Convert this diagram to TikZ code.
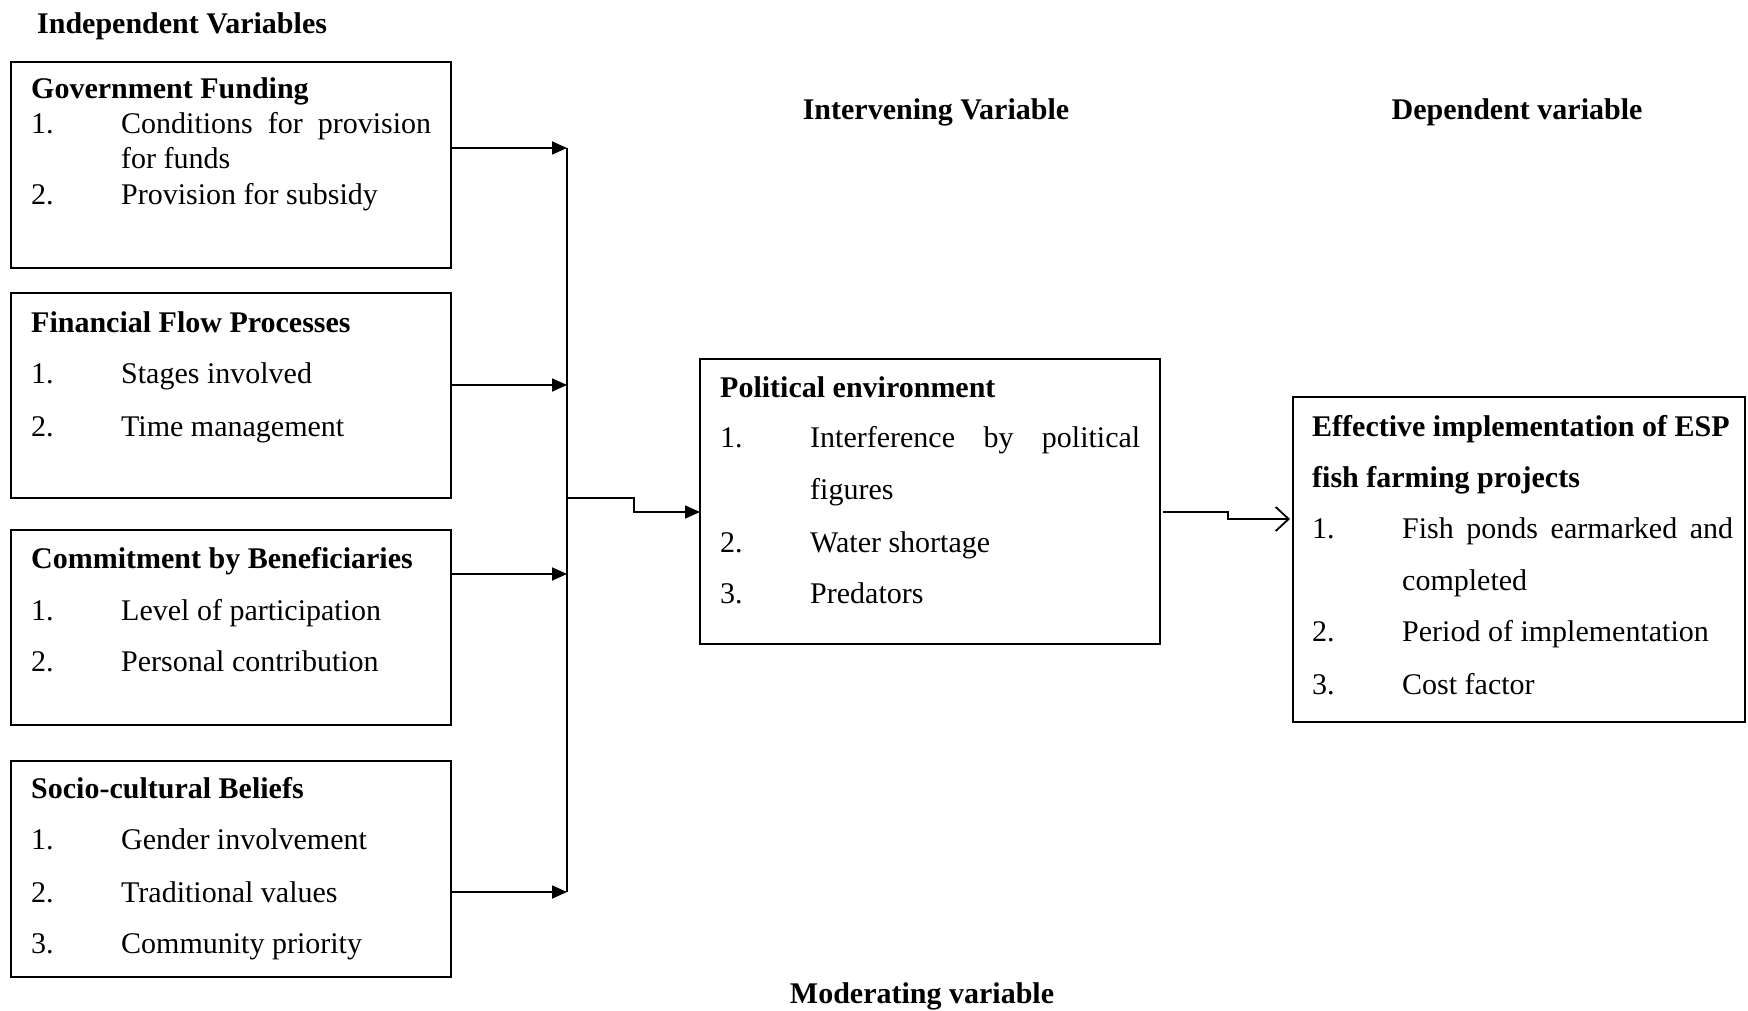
\documentclass[tikz,border=0pt]{standalone}
\usepackage{fontspec}
\setmainfont{Liberation Serif}
\usetikzlibrary{arrows.meta}
\begin{document}
\begin{tikzpicture}[x=1pt,y=-1pt,
  box/.style={draw,line width=1.8pt,rectangle,inner sep=0pt,outer sep=0pt,anchor=north west},
  txt/.style={anchor=base west,inner sep=0pt,font=\fontsize{30}{36}\selectfont},
  hd/.style={anchor=base west,inner sep=0pt,font=\fontsize{30}{36}\selectfont\bfseries},
  hdc/.style={hd,anchor=base},
  wire/.style={line width=1.8pt},
  conn/.style={line width=1.8pt,-{Triangle[length=15pt,width=13pt]}},
  openconn/.style={line width=1.8pt,-{Straight Barb[length=13pt,width=24pt,line width=1.8pt]}}
]
\useasboundingbox (0,0) rectangle (1748,1011);

% headings
\node[hd] (h1) at (37,34) {Independent Variables};
\node[hdc] (h2) at (936,120) {Intervening Variable};
\node[hdc] (h3) at (1517,120) {Dependent variable};
\node[hdc] (h4) at (922,1003) {Moderating variable};

% boxes
\node[box,minimum width=440pt,minimum height=206pt] (gf) at (11,62) {};
\node[box,minimum width=440pt,minimum height=205pt] (ff) at (11,293) {};
\node[box,minimum width=440pt,minimum height=195pt] (cb) at (11,530) {};
\node[box,minimum width=440pt,minimum height=216pt] (sc) at (11,761) {};
\node[box,minimum width=460pt,minimum height=285pt] (pol) at (700,359) {};
\node[box,minimum width=452pt,minimum height=325pt] (eff) at (1293,397) {};

% box 1
\node[hd] (gft) at (31,99) {Government Funding};
\node[txt] (gf1n) at (31,134) {1.};
\node[txt] (gf1) at (121,134) {\hbox to 310pt{Conditions\hfill for\hfill provision}};
\node[txt] (gf1b) at (121,169) {for funds};
\node[txt] (gf2n) at (31,205) {2.};
\node[txt] (gf2) at (121,205) {Provision for subsidy};

% box 2
\node[hd] (fft) at (31,332) {Financial Flow Processes};
\node[txt] (ff1n) at (31,383) {1.};
\node[txt] (ff1) at (121,383) {Stages involved};
\node[txt] (ff2n) at (31,436) {2.};
\node[txt] (ff2) at (121,436) {Time management};

% box 3
\node[hd] (cbt) at (31,568) {Commitment by Beneficiaries};
\node[txt] (cb1n) at (31,620) {1.};
\node[txt] (cb1) at (121,620) {Level of participation};
\node[txt] (cb2n) at (31,671) {2.};
\node[txt] (cb2) at (121,671) {Personal contribution};

% box 4
\node[hd] (sct) at (31,798) {Socio-cultural Beliefs};
\node[txt] (sc1n) at (31,849) {1.};
\node[txt] (sc1) at (121,849) {Gender involvement};
\node[txt] (sc2n) at (31,902) {2.};
\node[txt] (sc2) at (121,902) {Traditional values};
\node[txt] (sc3n) at (31,953) {3.};
\node[txt] (sc3) at (121,953) {Community priority};

% political box
\node[hd] (polt) at (720,397) {Political environment};
\node[txt] (pol1n) at (720,447) {1.};
\node[txt] (pol1) at (810,447) {\hbox to 330pt{Interference\hfill by\hfill political}};
\node[txt] (pol1b) at (810,499) {figures};
\node[txt] (pol2n) at (720,552) {2.};
\node[txt] (pol2) at (810,552) {Water shortage};
\node[txt] (pol3n) at (720,603) {3.};
\node[txt] (pol3) at (810,603) {Predators};

% effective box
\node[hd] (efft) at (1312,436) {Effective implementation of ESP};
\node[hd] (efft2) at (1312,487) {fish farming projects};
\node[txt] (eff1n) at (1312,538) {1.};
\node[txt] (eff1) at (1402,538) {\hbox to 331pt{Fish\hfill ponds\hfill earmarked\hfill and}};
\node[txt] (eff1b) at (1402,590) {completed};
\node[txt] (eff2n) at (1312,641) {2.};
\node[txt] (eff2) at (1402,641) {Period of implementation};
\node[txt] (eff3n) at (1312,694) {3.};
\node[txt] (eff3) at (1402,694) {Cost factor};

% bus
\coordinate (b1) at (567,148);
\coordinate (b2) at (567,385);
\coordinate (bj) at (567,498);
\coordinate (b3) at (567,574);
\coordinate (b4) at (567,892);
\draw[wire] (b1) -- (b4);

\draw[conn] (gf.east |- b1) -- (b1);
\draw[conn] (ff.east |- b2) -- (b2);
\draw[conn] (cb.east |- b3) -- (b3);
\draw[conn] (sc.east |- b4) -- (b4);

\coordinate (pin) at (700,512);
\draw[conn] (bj) -- (634,498) -- (634,512) -- (pin);

\coordinate (pout) at (1163,512);
\coordinate (ein) at (1290,519);
\draw[openconn] (pout) -- (1228,512) -- (1228,519) -- (ein);
\end{tikzpicture}
\end{document}
